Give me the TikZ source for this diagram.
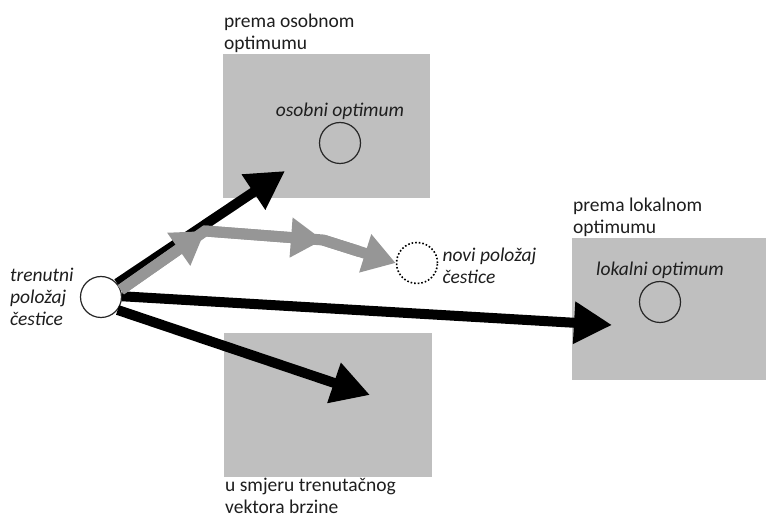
\documentclass[tikz,border=0pt]{standalone}
\usepackage{fontspec}
\setmainfont{Carlito}
\usetikzlibrary{arrows.meta,positioning,calc}
\definecolor{boxGray}{RGB}{191,191,191}
\definecolor{arrowGray}{RGB}{150,150,150}
\definecolor{darkText}{RGB}{30,30,30}

\begin{document}
\begin{tikzpicture}[x=1pt,y=-1pt,
        txt/.style={font=\fontsize{19.5}{22}\selectfont,text=darkText,align=left,inner sep=1pt},
        area/.style={fill=boxGray,draw=none,inner sep=0pt,outer sep=0pt},
        spot/.style={circle,draw=black!85,line width=1.2pt,minimum size=41pt,inner sep=0pt},
        blackArrow/.style={line width=10pt,-{Triangle[length=38pt,width=40pt]}},
        grayLine/.style={line width=11pt,draw=arrowGray},
        grayArrow/.style={grayLine,-{Triangle[length=32pt,width=38pt]}}]
    \useasboundingbox (0,0) rectangle (766,518);

    % podrucja optimuma
    \node[area,minimum width=207pt,minimum height=144pt] (osbox) at (326.5,126) {};
    \node[area,minimum width=194pt,minimum height=142pt] (lokbox) at (669,309) {};
    \node[area,minimum width=208pt,minimum height=144pt] (brbox) at (328,405) {};

    \node[txt,anchor=south west] (oslabel) at (osbox.north west) {prema osobnom\\optimumu};
    \node[txt,anchor=south west] (loklabel) at (lokbox.north west) {prema lokalnom\\optimumu};
    \node[txt,anchor=north west] (brlabel) at (brbox.south west) {u smjeru trenutačnog\\vektora brzine};

    % optimumi
    \node[spot] (oscirc) at (340,143) {};
    \node[txt,above=1pt of oscirc] (ostext) {\itshape osobni optimum};
    \node[spot] (lokcirc) at (660,302) {};
    \node[txt,above=1pt of lokcirc] (loktext) {\itshape lokalni optimum};

    % cestica
    \node[spot,fill=white] (start) at (101,297) {};
    \node[txt,left=5pt of start] (starttext) {\itshape trenutni\\\itshape položaj\\\itshape čestice};
    \node[spot,draw=black,line width=1.6pt,dotted] (novi) at (417,263) {};
    \node[txt,right=3pt of novi,yshift=-3pt] (novitext) {\itshape novi položaj\\\itshape čestice};

    \coordinate (ostip) at (285,171);
    \coordinate (loktip) at (612,325);
    \coordinate (brtip) at (370,395);
    \coordinate (g1) at (205,231);
    \coordinate (g2) at (323,240);

    \draw[blackArrow] (start.40) -- (ostip);
    \draw[blackArrow] (start.2) -- (loktip);
    \draw[blackArrow] (start.-38) -- (brtip);

    % put cestice
    \draw[grayLine] (start.20) -- (g1) -- (g2) -- ($(g2)!0.5!(novi.west)$);
    \draw[grayArrow] (start.20) -- (g1);
    \draw[grayArrow] (g1) -- (g2);
    \draw[grayArrow] (g2) -- (novi.west);
\end{tikzpicture}
\end{document}
